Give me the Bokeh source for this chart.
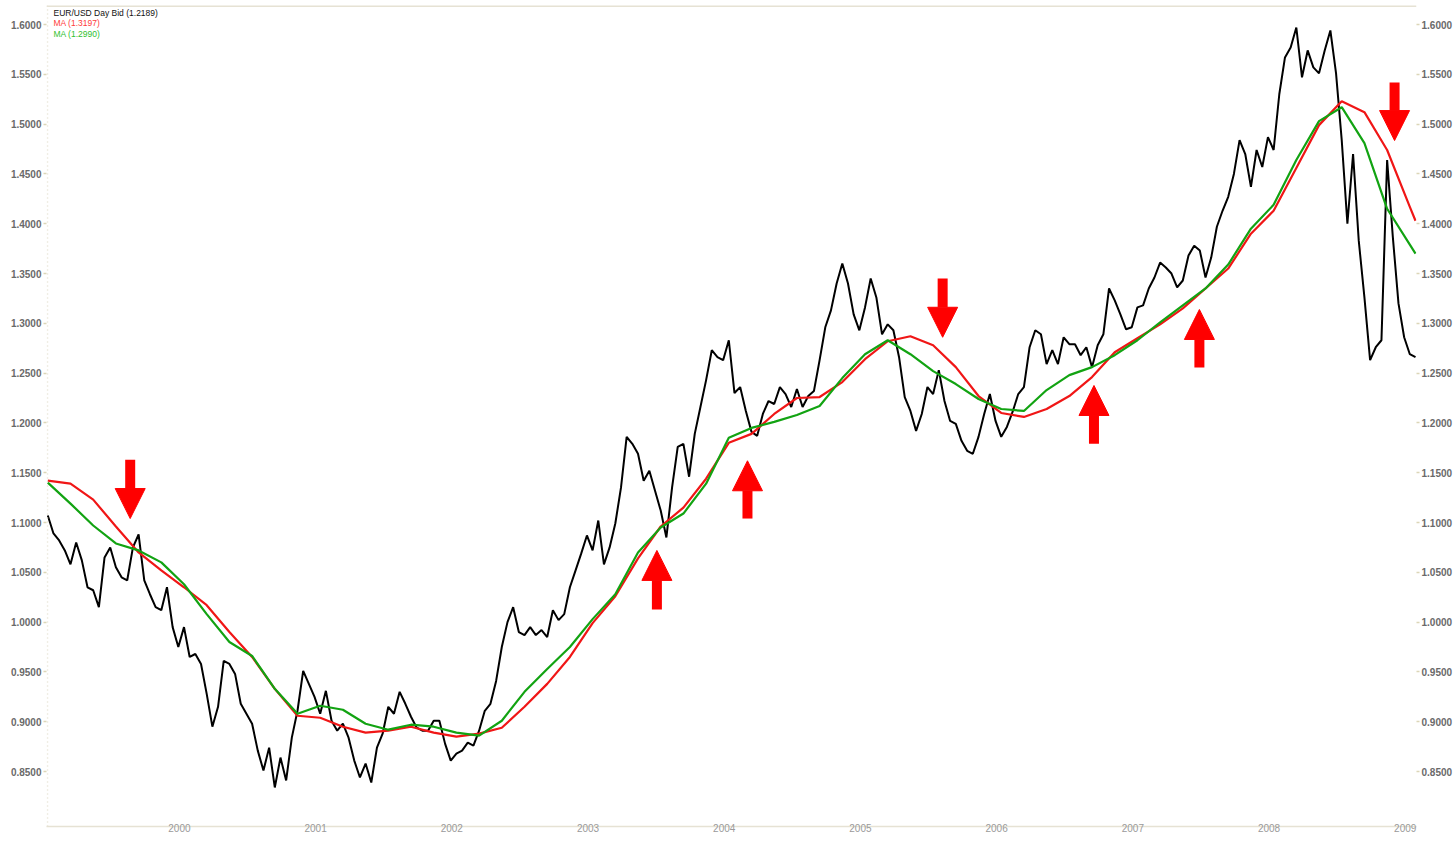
from bokeh.plotting import figure
from bokeh.models import (Arrow, NormalHead, ColumnDataSource, FixedTicker,
                          NumeralTickFormatter, CustomJSTickFormatter, LinearAxis,
                          Span, Label, Range1d)
from bokeh.embed import file_html
from bokeh.resources import INLINE

# ---------------- data ----------------
# EUR/USD daily bid, sampled twice a month starting Feb 1999 (decimal years)
start_year = 1999.125
samples_per_year = 24
price = [
    1.107, 1.089, 1.082, 1.072, 1.058, 1.080, 1.062, 1.035, 1.032, 1.015,
    1.065, 1.075, 1.055, 1.045, 1.042, 1.075, 1.088, 1.042, 1.028, 1.015,
    1.012, 1.035, 0.995, 0.975, 0.995, 0.965, 0.968, 0.958, 0.928, 0.895,
    0.915, 0.961, 0.958, 0.948, 0.918, 0.908, 0.898, 0.871, 0.851, 0.874,
    0.834, 0.864, 0.841, 0.884, 0.911, 0.951, 0.938, 0.925, 0.908, 0.931,
    0.901, 0.891, 0.898, 0.884, 0.861, 0.844, 0.858, 0.839, 0.874, 0.888,
    0.915, 0.908, 0.930, 0.918, 0.905, 0.894, 0.891, 0.891, 0.901, 0.901,
    0.878, 0.861, 0.868, 0.871, 0.879, 0.876, 0.891, 0.911, 0.918, 0.941,
    0.975, 1.000, 1.015, 0.990, 0.987, 0.995, 0.987, 0.992, 0.985, 1.012,
    1.002, 1.008, 1.035, 1.052, 1.069, 1.087, 1.072, 1.102, 1.058, 1.075,
    1.099, 1.135, 1.186, 1.179, 1.169, 1.142, 1.152, 1.132, 1.112, 1.085,
    1.135, 1.176, 1.179, 1.146, 1.189, 1.216, 1.243, 1.273, 1.266, 1.263,
    1.283, 1.230, 1.236, 1.212, 1.191, 1.187, 1.209, 1.222, 1.219, 1.236,
    1.229, 1.216, 1.234, 1.216, 1.227, 1.232, 1.263, 1.296, 1.313, 1.340,
    1.360, 1.340, 1.309, 1.293, 1.316, 1.345, 1.326, 1.289, 1.299, 1.293,
    1.266, 1.226, 1.212, 1.192, 1.209, 1.236, 1.229, 1.253, 1.222, 1.202,
    1.199, 1.182, 1.172, 1.169, 1.186, 1.209, 1.229, 1.202, 1.186, 1.196,
    1.211, 1.229, 1.236, 1.276, 1.293, 1.289, 1.259, 1.273, 1.259, 1.286,
    1.279, 1.279, 1.268, 1.276, 1.256, 1.278, 1.289, 1.335, 1.323, 1.309,
    1.294, 1.296, 1.316, 1.318, 1.335, 1.346, 1.361, 1.356, 1.350, 1.336,
    1.343, 1.368, 1.378, 1.373, 1.346, 1.366, 1.397, 1.413, 1.427, 1.450,
    1.484, 1.470, 1.437, 1.474, 1.457, 1.487, 1.474, 1.530, 1.567, 1.577,
    1.597, 1.547, 1.574, 1.557, 1.551, 1.574, 1.594, 1.551, 1.484, 1.400,
    1.470, 1.383, 1.326, 1.263, 1.276, 1.283, 1.464, 1.387, 1.320, 1.286,
    1.269, 1.266,
]
# moving averages, read every two months (plus the last day)
ma_red = [
    1.142, 1.139, 1.123, 1.096, 1.070, 1.052, 1.035, 1.017, 0.990, 0.965,
    0.933, 0.906, 0.904, 0.895, 0.889, 0.891, 0.895, 0.889, 0.885, 0.888,
    0.894, 0.915, 0.938, 0.965, 0.999, 1.026, 1.064, 1.096, 1.115, 1.144,
    1.180, 1.189, 1.209, 1.225, 1.226, 1.241, 1.264, 1.282, 1.287, 1.278,
    1.256, 1.227, 1.210, 1.206, 1.214, 1.227, 1.246, 1.271, 1.285, 1.299,
    1.315, 1.335, 1.355, 1.390, 1.413, 1.456, 1.499, 1.523, 1.512, 1.474,
    1.417, 1.403,
]
ma_green = [
    1.140, 1.119, 1.097, 1.079, 1.072, 1.060, 1.038, 1.008, 0.980, 0.966,
    0.933, 0.908, 0.916, 0.912, 0.898, 0.892, 0.897, 0.895, 0.889, 0.886,
    0.901, 0.930, 0.953, 0.975, 1.003, 1.028, 1.070, 1.095, 1.109, 1.139,
    1.185, 1.195, 1.201, 1.208, 1.217, 1.245, 1.269, 1.283, 1.269, 1.252,
    1.239, 1.224, 1.214, 1.212, 1.233, 1.248, 1.256, 1.268, 1.283, 1.301,
    1.318, 1.335, 1.359, 1.395, 1.419, 1.464, 1.503, 1.517, 1.481, 1.415,
    1.379, 1.370,
]
# signal arrows: date, tail price, tip price
arrow_dates = [1999.73, 2003.597, 2004.262, 2005.695, 2006.806, 2007.58, 2009.013]
arrow_tail = [1.163, 1.0127, 1.104, 1.345, 1.179, 1.2556, 1.5418]
arrow_tip = [1.104, 1.072, 1.162, 1.286, 1.2376, 1.3139, 1.4835]

years = [2000, 2001, 2002, 2003, 2004, 2005, 2006, 2007, 2008, 2009]
y_ticks = [0.85, 0.90, 0.95, 1.00, 1.05, 1.10, 1.15, 1.20, 1.25, 1.30,
           1.35, 1.40, 1.45, 1.50, 1.55, 1.60]

legend_texts = ["EUR/USD Day Bid (1.2189)", "MA (1.3197)", "MA (1.2990)"]

# ---------------- derived positions ----------------
dates = [start_year + i / samples_per_year for i in range(len(price))]
ma_dates = dates[::4] + [dates[-1]]

W, H = 1455, 848
BL, BR, BT, BB = 46, 33, 5, 22
X0, X1 = 1999.1155, 2009.174
Y1 = 1.6191
Y0 = 0.7948
px_per_year = (W - BL - BR) / (X1 - X0)
px_per_unit = (H - BT - BB) / (Y1 - Y0)

p = figure(width=W, height=H, x_range=Range1d(X0, X1), y_range=Range1d(Y0, Y1),
           output_backend="svg", toolbar_location=None,
           min_border_left=BL, min_border_right=BR, min_border_top=BT,
           min_border_bottom=BB, x_axis_type=None, y_axis_type=None)
p.outline_line_color = None
p.background_fill_color = "white"
p.border_fill_color = "white"

FONT = "Liberation Sans"
grid_col = "#dcd6b8"

# y axes (left and right)
for side in ("left", "right"):
    ax = LinearAxis(ticker=FixedTicker(ticks=y_ticks),
                    formatter=NumeralTickFormatter(format="0.0000"))
    ax.axis_line_color = None
    ax.major_tick_line_color = grid_col
    ax.major_tick_line_width = 1.5
    ax.major_tick_out = 3
    ax.major_tick_in = 0
    ax.minor_tick_line_color = None
    ax.major_label_standoff = 2
    ax.major_label_text_font = FONT
    ax.major_label_text_font_size = "10px"
    ax.major_label_text_font_style = "bold"
    ax.major_label_text_color = "#6a6a6a"
    p.add_layout(ax, side)

# x axis: labels just right of the year gridlines
xax = LinearAxis(ticker=FixedTicker(ticks=[y + 12.5 / px_per_year for y in years]),
                 formatter=CustomJSTickFormatter(code="return Math.floor(tick).toString()"))
xax.axis_line_color = "#e6e2d4"
xax.axis_line_width = 1.5
xax.major_tick_line_color = None
xax.minor_tick_line_color = None
xax.major_tick_out = 0
xax.major_tick_in = 0
xax.major_label_standoff = -3
xax.major_label_text_font = FONT
xax.major_label_text_font_size = "10px"
xax.major_label_text_color = "#9a9a9a"
p.add_layout(xax, "below")

p.ygrid.ticker = FixedTicker(ticks=y_ticks)
p.ygrid.grid_line_color = grid_col
p.ygrid.grid_line_dash = "4 3"
p.ygrid.grid_line_width = 1.5
p.xgrid.ticker = FixedTicker(ticks=years)
p.xgrid.grid_line_color = "#e2ddcc"
p.xgrid.grid_line_dash = "1 3"
p.xgrid.grid_line_width = 1.5

p.add_layout(Span(location=X0 + 1.0 / px_per_year, dimension="height",
                  line_color="#e2ddcc", line_dash="1 3", line_width=1.5))
p.add_layout(Span(location=Y1 - 0.5 / px_per_unit, dimension="width",
                  line_color="#e6e2d4", line_width=2))

# series
p.line(dates, price, line_color="black", line_width=2)
p.line(ma_dates, ma_red, line_color="#f01616", line_width=2.2)
p.line(ma_dates, ma_green, line_color="#12a312", line_width=2.2)

# arrows
asrc = ColumnDataSource(dict(x=arrow_dates, y0=arrow_tail, y1=arrow_tip))
p.add_layout(Arrow(end=NormalHead(size=30, fill_color="#ff0000", line_color="#ff0000",
                                  line_width=1),
                   source=asrc, x_start="x", y_start="y0", x_end="x", y_end="y1",
                   line_color="#ff0000", line_width=10))

# legend texts at top-left
leg_colors = ["#111111", "#ff3b3b", "#2fbf2f"]
for k, (txt, col) in enumerate(zip(legend_texts, leg_colors)):
    p.add_layout(Label(x=X0 + 7.0 / px_per_year,
                       y=Y1 - (7.3 + 10.5 * k) / px_per_unit,
                       text=txt, text_color=col, text_font=FONT,
                       text_font_size="8.5px", text_baseline="middle",
                       text_align="left"))

open("out.html", "w").write(file_html(p, INLINE))
